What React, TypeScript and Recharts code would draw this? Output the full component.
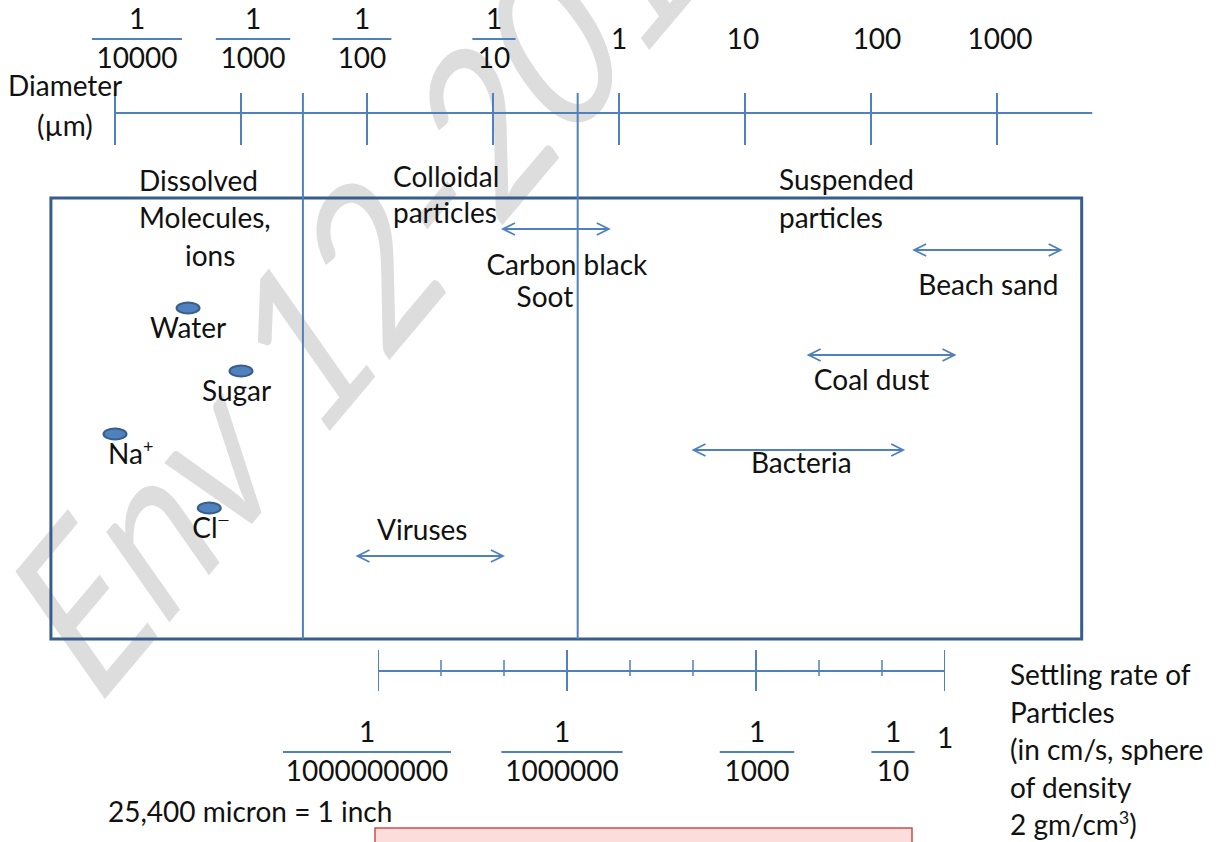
import React from 'react'
import { ComposedChart, XAxis, YAxis, Scatter, ReferenceLine, ReferenceArea, ReferenceDot } from 'recharts'

const FONT = 'Lato, "Open Sans", sans-serif'
const BLUE = '#4F81BD'
const DARK_BLUE = '#385D8A'
const INK = '#111'

// particle diameter, µm
const diameterTicks = [0.0001, 0.001, 0.01, 0.1, 1, 10, 100, 1000]
const diameterTickLabels = ['1/10000', '1/1000', '1/100', '1/10', '1', '10', '100', '1000']
const diameterAxisRange = [0.0001, 5700]
const classBoundaries = [0.0031, 0.47] // dissolved | colloidal | suspended
const boxRange = [0.000031, 4700]

const dissolvedNames = ['Water', 'Sugar', 'Na+', 'Cl-']
const dissolvedDiameters = [0.00038, 0.001, 0.0001, 0.00056]

const particleNames = ['Carbon black\nSoot', 'Beach sand', 'Coal dust', 'Bacteria', 'Viruses']
const particleMin = [0.12, 220, 32, 3.9, 0.0084]
const particleMax = [0.83, 3200, 460, 180, 0.12]

// settling rate, cm/s
const settlingMajorTicks = [1e-9, 1e-6, 1e-3, 1]
const settlingMinorTicks = [1e-8, 1e-7, 1e-5, 1e-4, 1e-2, 1e-1]
const settlingLabelValues = [1e-9, 1e-6, 1e-3, 1e-1, 1]
const settlingLabels = ['1/1000000000', '1/1000000', '1/1000', '1/10', '1']

// layout only (vertical levels in px, label nudges)
const ROW = { tickTop: 93, axis: 113, tickBottom: 145, boxTop: 198, boxBottom: 639, topBar: 39, topPlain: 49 }
const SROW = { majorTop: 650, minorTop: 660, axis: 671, minorBottom: 676, majorBottom: 691, bar: 752, plain: 748 }
const dissolvedRows = [308, 371, 434, 508]
const dissolvedLabelDx = [-38, -39, -7, -17]
const particleRows = [229, 250, 355, 450, 556]
const particleLabelPos = [
  [{ dx: 11, dy: 46 }, { dx: -11, dy: 78 }],
  [{ dx: 1, dy: 45 }],
  [{ dx: -10, dy: 35 }],
  [{ dx: 3, dy: 23 }],
  [{ dx: -8, dy: -16 }],
]
const topLabelDx = [22, 12, -5, 1, 0, -2, 6, 3]
const settleLabelDx = [-11, -5, 1, 11, 0]

const txt = { fontFamily: FONT, fontSize: 28, fill: INK }

function Fraction({ x, bar, label }: { x: number; bar: number; label: string }) {
  const [num, den] = label.split('/')
  const w = den.length * 15.6 + 12
  return (
    <g>
      <text x={x} y={bar - 10} textAnchor="middle" {...txt}>{num}</text>
      <line x1={x - w / 2} x2={x + w / 2} y1={bar} y2={bar} stroke={BLUE} strokeWidth={2} />
      <text x={x} y={bar + 29} textAnchor="middle" {...txt}>{den}</text>
    </g>
  )
}

function AxisLabel({ x, label, bar, plain }: { x: number; label: string; bar: number; plain: number }) {
  if (label.includes('/')) return <Fraction x={x} bar={bar} label={label} />
  return <text x={x} y={plain} textAnchor="middle" {...txt}>{label}</text>
}

function Arrow(props: any) {
  const { x1, y1, x2, y2, lines, offsets } = props
  const mid = (x1 + x2) / 2
  const h = 12
  const w = 6
  return (
    <g>
      <line x1={x1} y1={y1} x2={x2} y2={y2} stroke={BLUE} strokeWidth={1.8} />
      <polyline points={`${x1 + h},${y1 - w} ${x1},${y1} ${x1 + h},${y1 + w}`} fill="none" stroke={BLUE} strokeWidth={1.8} />
      <polyline points={`${x2 - h},${y2 - w} ${x2},${y2} ${x2 - h},${y2 + w}`} fill="none" stroke={BLUE} strokeWidth={1.8} />
      {lines.map((t: string, i: number) => (
        <text key={i} x={mid + offsets[i].dx} y={y1 + offsets[i].dy} textAnchor="middle" {...txt}>{t}</text>
      ))}
    </g>
  )
}

function Molecule(props: any) {
  const { cx, cy, payload } = props
  const name: string = payload.name
  const base = name.replace(/[+-]$/, '')
  const sup = name.endsWith('+') ? '+' : name.endsWith('-') ? '\u2014' : ''
  return (
    <g>
      <ellipse cx={cx} cy={cy} rx={11.5} ry={5.5} fill={BLUE} stroke={DARK_BLUE} strokeWidth={2} />
      <text x={cx + payload.dx} y={cy + 30} {...txt}>
        {base}
        {sup && <tspan dy={sup === '+' ? -11 : -13} fontSize={sup === '+' ? 18 : 15}>{sup}</tspan>}
      </text>
    </g>
  )
}

function SettleTick(props: any) {
  const { cx, payload } = props
  const major = payload.major
  return (
    <line x1={cx} x2={cx} y1={major ? SROW.majorTop : SROW.minorTop} y2={major ? SROW.majorBottom : SROW.minorBottom}
      stroke={BLUE} strokeWidth={major ? 2 : 1.5} />
  )
}

const molecules = dissolvedNames.map((name, i) => ({
  name,
  d: dissolvedDiameters[i],
  row: dissolvedRows[i],
  dx: dissolvedLabelDx[i],
}))

const settleTicks = [
  ...settlingMajorTicks.map((v) => ({ v, row: SROW.axis, major: true })),
  ...settlingMinorTicks.map((v) => ({ v, row: SROW.axis, major: false })),
]

const seg = (x1: number, y1: number, x2: number, y2: number) => [{ x: x1, y: y1 }, { x: x2, y: y2 }]

function DiameterChart() {
  return (
    <ComposedChart width={1260} height={842} margin={{ top: 0, right: 126, bottom: 0, left: 0 }}>
      <XAxis type="number" dataKey="d" scale="log" domain={[1e-5, 1e4]} allowDataOverflow hide height={0} />
      <YAxis type="number" dataKey="row" domain={[0, 842]} reversed allowDataOverflow hide width={0} />
      <ReferenceArea x1={boxRange[0]} x2={boxRange[1]} y1={ROW.boxTop} y2={ROW.boxBottom} fill="none" fillOpacity={0} stroke={DARK_BLUE} strokeWidth={3} ifOverflow="visible" />
      {classBoundaries.map((b) => (
        <ReferenceLine key={b} segment={seg(b, ROW.tickTop, b, ROW.boxBottom)} stroke={BLUE} strokeWidth={2} ifOverflow="visible" />
      ))}
      <ReferenceLine segment={seg(diameterAxisRange[0], ROW.axis, diameterAxisRange[1], ROW.axis)} stroke={BLUE} strokeWidth={2} ifOverflow="visible" />
      {diameterTicks.map((t) => (
        <ReferenceLine key={t} segment={seg(t, ROW.tickTop, t, ROW.tickBottom)} stroke={BLUE} strokeWidth={2} ifOverflow="visible" />
      ))}
      {diameterTicks.map((t, i) => (
        <ReferenceDot key={'l' + t} x={t} y={ROW.axis} r={0} ifOverflow="visible"
          shape={(p: any) => <AxisLabel x={p.cx + topLabelDx[i]} label={diameterTickLabels[i]} bar={ROW.topBar} plain={ROW.topPlain} />} />
      ))}
      {particleNames.map((name, i) => (
        <ReferenceLine key={name} segment={seg(particleMin[i], particleRows[i], particleMax[i], particleRows[i])} ifOverflow="visible"
          shape={(p: any) => <Arrow x1={p.x1} y1={p.y1} x2={p.x2} y2={p.y2} lines={name.split('\n')} offsets={particleLabelPos[i]} />} />
      ))}
      <Scatter data={molecules} isAnimationActive={false} shape={(p: any) => <Molecule {...p} />} />
    </ComposedChart>
  )
}

function SettlingChart() {
  return (
    <ComposedChart width={1228} height={842} margin={{ top: 0, right: 283, bottom: 0, left: 378 }}>
      <XAxis type="number" dataKey="v" scale="log" domain={[1e-9, 1]} allowDataOverflow hide height={0} />
      <YAxis type="number" dataKey="row" domain={[0, 842]} reversed allowDataOverflow hide width={0} />
      <ReferenceLine segment={seg(1e-9, SROW.axis, 1, SROW.axis)} stroke={BLUE} strokeWidth={2} ifOverflow="visible" />
      <Scatter data={settleTicks} isAnimationActive={false} shape={(p: any) => <SettleTick {...p} />} />
      {settlingLabelValues.map((v, i) => (
        <ReferenceDot key={'l' + v} x={v} y={SROW.axis} r={0} ifOverflow="visible"
          shape={(p: any) => <AxisLabel x={p.cx + settleLabelDx[i]} label={settlingLabels[i]} bar={SROW.bar} plain={SROW.plain} />} />
      ))}
    </ComposedChart>
  )
}

const abs: React.CSSProperties = { position: 'absolute', top: 0 }

export default function App() {
  return (
    <div style={{ position: 'absolute', left: 0, top: 0, width: 1228, height: 842, overflow: 'hidden', background: '#fff' }}>
      <svg width={1228} height={842} style={{ ...abs, left: 0 }}>
        <text transform="translate(94 712) rotate(-50) skewX(-15) scale(0.88 1)" fontFamily={FONT} fontSize={210}
          fill="#DDDDDD">Env 12-2016</text>
      </svg>
      <div style={{ ...abs, left: -11 }}><DiameterChart /></div>
      <div style={{ ...abs, left: 0 }}><SettlingChart /></div>
      <svg width={1228} height={842} style={{ ...abs, left: 0, pointerEvents: 'none' }}>
        <text x={8} y={96} {...txt}>Diameter</text>
        <text x={37} y={136} {...txt}>(µm)</text>
        <text x={139} y={191} {...txt}>Dissolved</text>
        <text x={139} y={228} {...txt}>Molecules,</text>
        <text x={185} y={266} {...txt}>ions</text>
        <text x={393} y={187} {...txt}>Colloidal</text>
        <text x={393} y={223} {...txt}>particles</text>
        <text x={779} y={190} {...txt}>Suspended</text>
        <text x={779} y={228} {...txt}>particles</text>
        <text x={1010} y={685} {...txt}>Settling rate of</text>
        <text x={1010} y={723} {...txt}>Particles</text>
        <text x={1010} y={760} {...txt}>(in cm/s, sphere</text>
        <text x={1010} y={798} {...txt}>of density</text>
        <text x={1010} y={835} {...txt}>2 gm/cm<tspan dy={-11} fontSize={18}>3</tspan><tspan dy={11}>)</tspan></text>
        <text x={108} y={822} {...txt}>25,400 micron = 1 inch</text>
        <rect x={375} y={828} width={537} height={40} fill="#FDDCDC" stroke="#C9504D" strokeWidth={1.5} />
      </svg>
    </div>
  )
}
